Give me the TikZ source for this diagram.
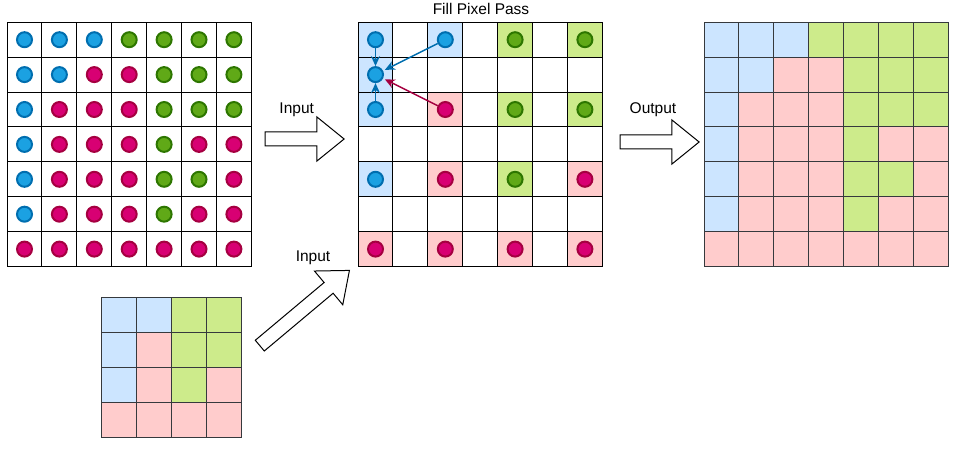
\documentclass[tikz,border=0pt]{standalone}
\usepackage{fontspec}
\setmainfont{Liberation Sans}
\usetikzlibrary{arrows.meta,shapes.arrows}
\definecolor{ltB}{HTML}{CCE5FF}
\definecolor{ltG}{HTML}{CDEB8B}
\definecolor{ltR}{HTML}{FFCCCC}
\definecolor{dotB}{HTML}{1BA1E2}
\definecolor{dotG}{HTML}{60A917}
\definecolor{dotR}{HTML}{D80073}
\definecolor{lnB}{HTML}{006EAF}
\definecolor{lnG}{HTML}{2D7600}
\definecolor{lnR}{HTML}{A50040}
\definecolor{lineK}{HTML}{36393D}
\newcommand\bigmap{{B,B,B,G,G,G,G},{B,B,R,R,G,G,G},{B,R,R,R,G,G,G},{B,R,R,R,G,R,R},{B,R,R,R,G,G,R},{B,R,R,R,G,R,R},{R,R,R,R,R,R,R}}
\newcommand\smallmap{{B,B,G,G},{B,R,G,G},{B,R,G,R},{R,R,R,R}}
\tikzset{
  >={Stealth[length=10pt,width=9pt]},
  px/.style={draw,minimum size=34.9pt,inner sep=0pt},
  pc/.style={px,draw=lineK,fill=lt#1},
  dt/.style={circle,draw=ln#1,fill=dot#1,minimum size=15pt,inner sep=0pt,line width=2pt},
  blk/.style={single arrow,draw,fill=white,inner sep=6.5pt,minimum height=#1,single arrow head extend=15pt,single arrow tip angle=78},
  lb/.style={font=\fontsize{15.5}{18}\selectfont},
  every picture/.style={line width=1pt},
}
\begin{document}
\begin{tikzpicture}[x=1pt,y=-1pt]
\useasboundingbox (0,0) rectangle (958,449);
% input pixels and output grid
\foreach \row [count=\rr from 0] in \bigmap
  \foreach \k [count=\cc from 0] in \row {
    \node[px] (a\rr\cc) at (24.5+34.9*\cc,39.7+34.9*\rr) {};
    \node[dt=\k] (p\rr\cc) at (a\rr\cc) {};
    \node[pc=\k] (c\rr\cc) at (721.5+34.9*\cc,39.7+34.9*\rr) {};
  }
% fill pixel pass
\foreach \rr in {0,...,6} \foreach \cc in {0,...,6}
  \node[px] (b\rr\cc) at (375.5+34.9*\cc,39.7+34.9*\rr) {};
\foreach \row [count=\i from 0] in \smallmap
  \foreach \k [count=\j from 0] in \row {
    \node[pc=\k] (s\i\j) at (119.2+34.9*\j,315.2+34.9*\i) {};
    \pgfmathtruncatemacro\rr{2*\i}\pgfmathtruncatemacro\cc{2*\j}
    \node[px,fill=lt\k] (f\rr\cc) at (b\rr\cc) {};
    \node[dt=\k] (q\rr\cc) at (b\rr\cc) {};
  }
\node[px,fill=ltB] (f10) at (b10) {}; \node[dt=B] (q10) at (b10) {};
\draw[->,lnB,line width=1.5pt] (q00) -- (q10); \draw[->,lnB,line width=1.5pt] (q20) -- (q10);
\draw[->,lnB,line width=1.5pt,shorten >=2pt] (q02) -- (q10); \draw[->,lnR,line width=1.5pt,shorten >=2pt] (q22) -- (q10);
% block arrows
\node[blk=79pt] (in1) at (300.3,139) {}; \node[blk=79pt] (out) at (655.3,142) {};
\node[blk=117pt,rotate=40] (in2) at (301.3,310.8) {};
\node[lb] (tIn1) at (296.7,109.5) {Input}; \node[lb] (tOut) at (653,109.5) {Output};
\node[lb] (tIn2) at (313,258) {Input}; \node[lb] (ttl) at (481,9) {Fill Pixel Pass};
\end{tikzpicture}
\end{document}
